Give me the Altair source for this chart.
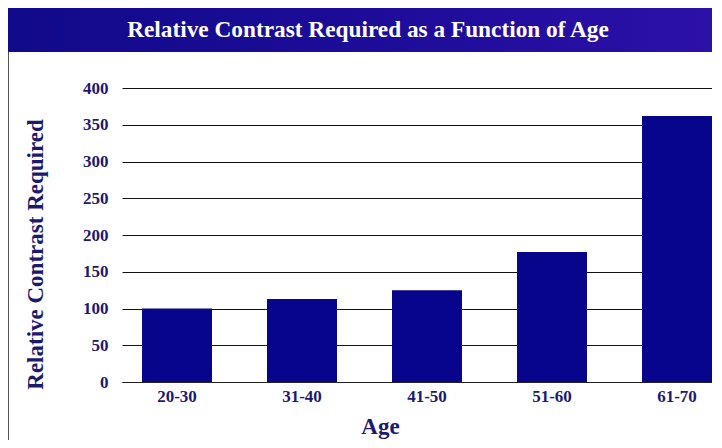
import altair as alt
import pandas as pd

# ---- data ----
ages = ["20-30", "31-40", "41-50", "51-60", "61-70"]
contrast = [100, 113, 125, 177, 362]
y_ticks = [0, 50, 100, 150, 200, 250, 300, 350, 400]
chart_title = "Relative Contrast Required as a Function of Age"
x_title = "Age"
y_title = "Relative Contrast Required"

df = pd.DataFrame({"Age": ages, "Contrast": contrast})

W, H = 590, 294
FONT = "Liberation Serif"
NAVY = "#1b1a6e"
BAR = "#06058c"

bars = alt.Chart(df).mark_bar(color=BAR).encode(
    x=alt.X(
        "Age:N",
        sort=ages,
        scale=alt.Scale(paddingInner=0.44, paddingOuter=0.08, align=1),
        axis=alt.Axis(
            title=x_title,
            labelAngle=0,
            labelFont=FONT,
            labelFontWeight="bold",
            labelFontSize=17,
            labelColor=NAVY,
            labelPadding=6,
            ticks=False,
            tickSize=0,
            domain=True,
            domainColor="#222222",
            domainWidth=1.2,
            grid=False,
            titleFont=FONT,
            titleFontWeight="bold",
            titleFontSize=23,
            titleColor=NAVY,
            titleX=258,
            titleY=51,
            titleAlign="center",
            titleBaseline="alphabetic",
        ),
    ),
    y=alt.Y(
        "Contrast:Q",
        scale=alt.Scale(domain=[0, 400], nice=False),
        axis=alt.Axis(
            title=y_title,
            values=y_ticks,
            labelFont=FONT,
            labelFontWeight="bold",
            labelFontSize=17,
            labelColor=NAVY,
            labelPadding=14,
            ticks=False,
            tickSize=0,
            domain=False,
            grid=True,
            gridColor="#111111",
            gridWidth=1,
            gridOpacity=1,
            titleFont=FONT,
            titleFontWeight="bold",
            titleFontSize=23,
            titleColor=NAVY,
            titleAngle=-90,
            titleX=-80,
            titleY=166,
            titleAlign="center",
            titleBaseline="alphabetic",
        ),
    ),
)

one = alt.Data(values=[{}])

banner = alt.Chart(one).mark_rect(
    color=alt.LinearGradient(
        gradient="linear",
        stops=[
            alt.GradientStop(color="#110a8a", offset=0),
            alt.GradientStop(color="#1c0c98", offset=0.5),
            alt.GradientStop(color="#2c10a8", offset=1),
        ],
        x1=0, x2=1, y1=0, y2=0,
    )
).encode(
    x=alt.value(-114), x2=alt.value(W), y=alt.value(-80), y2=alt.value(-36)
)

frame = alt.Chart(one).mark_rule(color="#555555", strokeWidth=1).encode(
    x=alt.value(-113.5), y=alt.value(-36), y2=alt.value(H + 58)
)

title = alt.Chart(one).mark_text(
    text=chart_title,
    font=FONT,
    fontWeight="bold",
    fontSize=23.3,
    color="white",
    align="center",
    baseline="middle",
).encode(x=alt.value(246), y=alt.value(-58))

chart = (
    alt.layer(banner, frame, title, bars)
    .properties(
        width=W,
        height=H,
        autosize=alt.AutoSizeParams(type="none"),
        padding={"left": 114, "top": 80, "right": 0, "bottom": 58},
        background="white",
    )
    .configure_view(stroke=None)
)

chart.save("out.html", embed_options={"renderer": "svg", "actions": False})
